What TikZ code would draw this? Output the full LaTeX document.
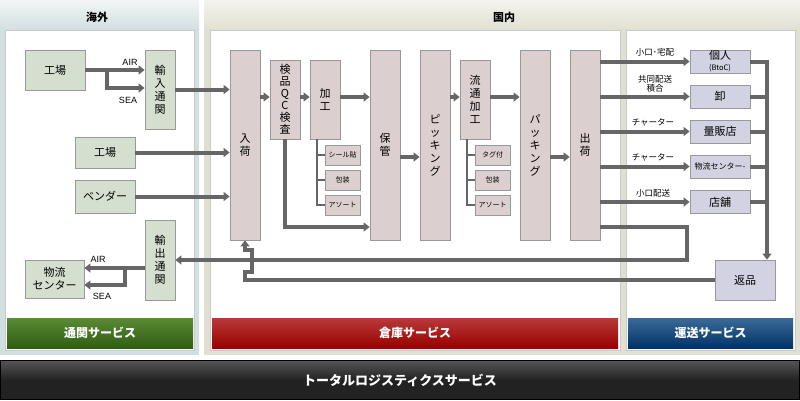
\documentclass[tikz,border=0pt]{standalone}
\usepackage{fontspec}
\setmainfont{Noto Sans CJK JP}
\newfontfamily\latinfont{Liberation Sans}
\usetikzlibrary{arrows.meta,calc}
\definecolor{lnc}{HTML}{666666}
\definecolor{bordc}{HTML}{999999}
\definecolor{gfill}{HTML}{D4DFCF}
\definecolor{pfill}{HTML}{DCCFCF}
\definecolor{lfill}{HTML}{D2D2E2}
\definecolor{lpanel}{HTML}{D2DFE0}
\definecolor{lpaneltop}{HTML}{F2F6F6}
\definecolor{rpanel}{HTML}{E0E0D2}
\definecolor{rpaneltop}{HTML}{F4F4EE}
\definecolor{innerb}{HTML}{C8CCCC}
\definecolor{gtop}{HTML}{5A8A36}
\definecolor{gbot}{HTML}{2E5E10}
\definecolor{rtop}{HTML}{B83A3A}
\definecolor{rbot}{HTML}{990000}
\definecolor{btop}{HTML}{3A6A98}
\definecolor{bbot}{HTML}{003366}
\definecolor{dtop}{HTML}{555555}
\definecolor{dbot}{HTML}{222222}
\tikzset{
  box/.style={draw=bordc, line width=0.8pt, inner sep=0pt, align=center,
    font=\fontsize{11}{13}\selectfont},
  gbox/.style={box, fill=gfill},
  pbox/.style={box, fill=pfill},
  lbox/.style={box, fill=lfill, minimum width=60, minimum height=23},
  subbox/.style={pbox, minimum width=35, minimum height=20, font=\fontsize{7}{8}\selectfont},
  arr/.style={draw=lnc, line width=4pt, -{Triangle[length=6pt,width=9pt]}},
  ln/.style={draw=lnc, line width=4pt},
  brk/.style={draw=lnc, line width=2pt},
  lbl/.style={inner sep=0pt, font=\latinfont\fontsize{9}{9}\selectfont},
  tlbl/.style={inner sep=0pt, align=center, font=\fontsize{8.5}{9}\selectfont},
  title/.style={inner sep=0pt, font=\bfseries\fontsize{11}{11}\selectfont},
  bar/.style={inner sep=0pt, text=white, font=\bfseries\fontsize{12}{12}\selectfont, minimum height=30}
}
\begin{document}
\begin{tikzpicture}[x=1pt,y=-1pt]
\useasboundingbox (0,0) rectangle (800,400);
\fill[white] (0,0) rectangle (800,400);
% panels
\fill[lpanel] (0,0) rectangle (199,355);
\shade[top color=lpaneltop, bottom color=lpanel] (0,0) rectangle (199,30);
\fill[rpanel] (204,0) rectangle (800,355);
\shade[top color=rpaneltop, bottom color=rpanel] (204,0) rectangle (800,30);
\draw[innerb, fill=white] (5,30) rectangle (194,350);
\draw[innerb, fill=white] (210,30) rectangle (620,350);
\draw[innerb, fill=white] (626,30) rectangle (795,350);
\node[title] (tl) at (97,17) {海外};
\node[title] (tr) at (504,17) {国内};
% bars
\node[bar, top color=gtop, bottom color=gbot, minimum width=186] (gbar) at (100,333) {通関サービス};
\node[bar, top color=rtop, bottom color=rbot, minimum width=406] (rbar) at (415,333) {倉庫サービス};
\node[bar, top color=btop, bottom color=bbot, minimum width=165] (bbar) at (710.5,333) {運送サービス};
\node[bar, draw=black, top color=dtop, bottom color=dbot, middle color=dbot, minimum width=799, minimum height=39,
  font=\bfseries\fontsize{13}{13}\selectfont] (dbar) at (400,380) {トータルロジスティクスサービス};
% left nodes
\node[gbox, minimum width=60, minimum height=40] (f1) at (55,70) {工場};
\node[gbox, minimum width=30, minimum height=79] (imp) at (160,89.5) {輸\\入\\通\\関};
\node[gbox, minimum width=60, minimum height=31] (f2) at (105,152.5) {工場};
\node[gbox, minimum width=60, minimum height=33] (ven) at (105,196.5) {ベンダー};
\node[gbox, minimum width=30, minimum height=80] (exp) at (160,260) {輸\\出\\通\\関};
\node[gbox, minimum width=59, minimum height=38] (bc) at (54.5,279) {物流\\センター};
% warehouse nodes
\node[pbox, minimum width=30, minimum height=190] (nyuka) at (245,145) {入\\荷};
\node[pbox, minimum width=30, minimum height=79, font=\fontsize{11}{12}\selectfont] (kenpin) at (285,99.5) {検\\品\\Q\\C\\検\\査};
\node[pbox, minimum width=30, minimum height=79] (kakou) at (325,99.5) {加\\工};
\node[subbox] (seal) at (342.5,155) {シール貼};
\node[subbox] (hou1) at (342.5,180) {包装};
\node[subbox] (aso1) at (342.5,205) {アソート};
\node[pbox, minimum width=30, minimum height=190] (hokan) at (385,145) {保\\管};
\node[pbox, minimum width=30, minimum height=190] (pick) at (435,145) {ピ\\ッ\\キ\\ン\\グ};
\node[pbox, minimum width=30, minimum height=79] (ryu) at (475,99.5) {流\\通\\加\\工};
\node[subbox] (tag) at (492.5,155) {タグ付};
\node[subbox] (hou2) at (492.5,180) {包装};
\node[subbox] (aso2) at (492.5,205) {アソート};
\node[pbox, minimum width=30, minimum height=190] (pack) at (535,145) {パ\\ッ\\キ\\ン\\グ};
\node[pbox, minimum width=30, minimum height=190] (ship) at (585,145) {出\\荷};
% transport nodes
\node[lbox] (kojin) at (720,61.5) {個人\\[-2pt]{\fontsize{7.5}{7.5}\selectfont (BtoC)}};
\node[lbox] (oro) at (720,96.5) {卸};
\node[lbox] (ryo) at (720,131.5) {量販店};
\node[lbox, font=\fontsize{8}{9}\selectfont] (bc2) at (720,166.5) {物流センター-};
\node[lbox] (tenpo) at (720,202) {店舗};
\node[lbox, minimum height=40] (hen) at (745,280) {返品};
% coordinates
\coordinate (sb) at (107,88);
\coordinate (ea) at (125,268);
\coordinate (es) at (125,285);
\coordinate (r97) at (0,97);
\coordinate (r157) at (0,157);
\coordinate (r227) at (0,227);
\coordinate (r260) at (0,260);
\coordinate (r280) at (0,280);
\coordinate (cx) at (767,59.5);
\coordinate (tx) at (687,260);
\coordinate (kb) at (317,139);
% left connectors
\draw[arr] (f1.east) -- (f1.east -| imp.west);
\draw[arr] (f1.east -| sb) |- (sb -| imp.west);
\node[lbl] (air1) at (130,62) {AIR};
\node[lbl] (sea1) at (128,100) {SEA};
\draw[arr] (imp.east) -- (imp.east -| nyuka.west);
\draw[arr] (f2.east) -- (f2.east -| nyuka.west);
\draw[arr] (ven.east) -- (ven.east -| nyuka.west);
\draw[arr] (exp.west |- ea) -- (ea -| bc.east);
\draw[arr] (ea) |- (es -| bc.east);
\node[lbl] (air2) at (98,259) {AIR};
\node[lbl] (sea2) at (102,296) {SEA};
% warehouse connectors
\draw[arr] (nyuka.east |- r97) -- (kenpin.west |- r97);
\draw[arr] (kenpin.east |- r97) -- (kakou.west |- r97);
\draw[arr] (kakou.east |- r97) -- (hokan.west |- r97);
\draw[arr] (kenpin.south) |- (hokan.west |- r227);
\draw[arr] (hokan.east |- r157) -- (pick.west |- r157);
\draw[arr] (pick.east |- r97) -- (ryu.west |- r97);
\draw[arr] (ryu.east |- r97) -- (pack.west |- r97);
\draw[arr] (pack.east |- r157) -- (ship.west |- r157);
\draw[brk] (kb) |- (aso1.west);
\draw[brk] (kb |- seal.west) -- (seal.west);
\draw[brk] (kb |- hou1.west) -- (hou1.west);
\draw[brk] ([xshift=-8pt]ryu.south) |- (aso2.west);
\draw[brk] ([xshift=-8pt]ryu.south |- tag.west) -- (tag.west);
\draw[brk] ([xshift=-8pt]ryu.south |- hou2.west) -- (hou2.west);
% transport connectors
\draw[arr] (ship.east |- kojin.west) -- (kojin.west);
\draw[arr] (ship.east |- oro.west) -- (oro.west);
\draw[arr] (ship.east |- ryo.west) -- (ryo.west);
\draw[arr] (ship.east |- bc2.west) -- (bc2.west);
\draw[arr] (ship.east |- tenpo.west) -- (tenpo.west);
\node[tlbl] (t1) at (655,52) {小口･宅配};
\node[tlbl] (t2) at (655,84) {共同配送\\積合};
\node[tlbl] (t3) at (653,122) {チャーター};
\node[tlbl] (t4) at (653,157) {チャーター};
\node[tlbl] (t5) at (653,193) {小口配送};
\draw[ln] (kojin.east) -- (kojin.east -| cx);
\draw[ln] (oro.east) -- (oro.east -| cx);
\draw[ln] (ryo.east) -- (ryo.east -| cx);
\draw[ln] (bc2.east) -- (bc2.east -| cx);
\draw[ln] (tenpo.east) -- (tenpo.east -| cx);
\draw[arr] (cx) -- (cx |- hen.north);
% return connectors
\draw[arr] (ship.east |- r227) -| (tx) -- (exp.east |- r260);
\draw[arr] (hen.west |- r280) -- (245,280) -- (245,272) -- (252,272) -- (252,250) -- (245,250) -- (nyuka.south);
\end{tikzpicture}
\end{document}
